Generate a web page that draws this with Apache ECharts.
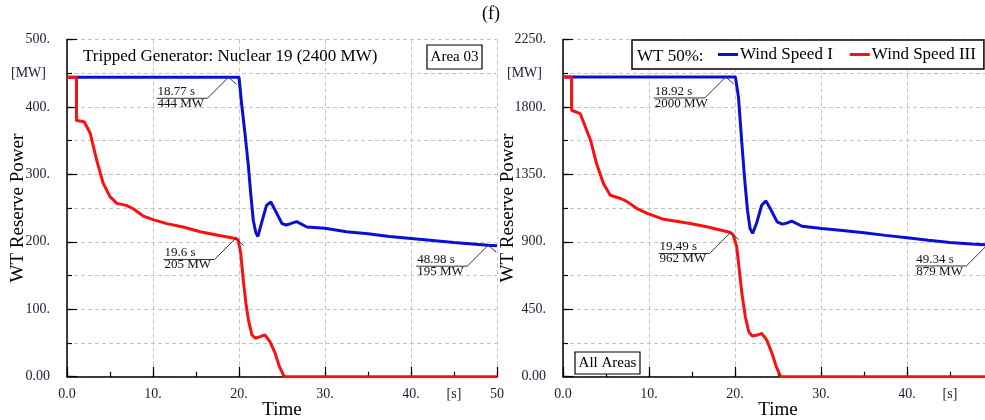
<!DOCTYPE html>
<html>
<head>
<meta charset="utf-8">
<script src="https://cdn.jsdelivr.net/npm/echarts@6/dist/echarts.min.js"></script>
<style>
  html, body { margin: 0; padding: 0; background: #fff; }
  #chart { width: 985px; height: 420px; }
</style>
</head>
<body>
<div id="chart"></div>
<script>
// ---- Time series: [time (s), reserve power (MW)] ----
// Area 03, Wind Speed I
const area03WindI = [
  [0, 444], [20.0, 444], [20.3, 405], [20.7, 360], [21.1, 311], [21.36, 272], [21.66, 232],
  [21.95, 214], [22.2, 208], [22.6, 227], [23.2, 254], [23.7, 259], [24.2, 247], [25.0, 227],
  [25.5, 225], [26.0, 227], [26.7, 230], [27.9, 222], [30.0, 220], [32.5, 215], [35, 212],
  [37.5, 208], [40, 205], [42.5, 202], [45, 199], [47.5, 196.5], [48.98, 195], [50, 194]
];
// Area 03, Wind Speed III
const area03WindIII = [
  [0, 444], [1.1, 444], [1.1, 380], [2.0, 378], [2.7, 361], [3.45, 321], [4.2, 287], [5.0, 267],
  [5.8, 257], [6.9, 254], [7.7, 249], [8.9, 238], [10, 233], [11.6, 227], [13.5, 222], [15.5, 215],
  [17.4, 210], [19.6, 205], [19.9, 203], [20.2, 183], [20.5, 143], [20.8, 109], [21.1, 84],
  [21.5, 62], [21.9, 57], [22.4, 59], [23.0, 62], [23.6, 52], [24.2, 35], [24.7, 15], [25.25, 0],
  [50, 0]
];
// All areas, Wind Speed I
const allWindI = [
  [0, 2000], [20.05, 2000], [20.4, 1867], [20.8, 1556], [21.1, 1333], [21.45, 1111], [21.75, 989],
  [22.05, 956], [22.5, 1022], [23.1, 1144], [23.6, 1173], [24.1, 1122], [24.9, 1033], [25.5, 1018],
  [26.0, 1025], [26.6, 1038], [27.8, 1004], [30.1, 989], [32.5, 975], [35, 960], [37.5, 943],
  [40, 927], [42.5, 911], [45, 896], [47.5, 886], [49.34, 879], [50, 877]
];
// All areas, Wind Speed III
const allWindIII = [
  [0, 2000], [1.0, 2000], [1.0, 1778], [2.0, 1756], [3.2, 1578], [3.9, 1422], [4.7, 1289],
  [5.5, 1211], [6.7, 1189], [7.4, 1170], [8.6, 1122], [9.8, 1090], [11.7, 1050], [14.8, 1022],
  [16.7, 1000], [19.49, 962], [19.8, 944], [20.2, 867], [20.5, 711], [20.8, 556], [21.2, 400],
  [21.6, 300], [22.0, 271], [22.6, 278], [23.1, 289], [23.7, 244], [24.3, 156], [24.8, 67],
  [25.3, 0], [50, 0]
];

// ---- Value call-outs: [time (s), power (MW)] ----
const area03Callouts = [[18.77, 444], [19.6, 205], [48.98, 195]];
const allCallouts = [[18.92, 2000], [19.49, 962], [49.34, 879]];

// ---- Tick labels ----
const timeTicks = [0, 10, 20, 30, 40, 45, 50];
const timeTickText = ['0.0', '10.', '20.', '30.', '40.', '[s]', '50'];
const area03Ticks = [0, 100, 200, 300, 400, 450, 500];
const area03TickText = ['0.00', '100.', '200.', '300.', '400.', '[MW]', '500.'];
const allTicks = [0, 450, 900, 1350, 1800, 2025, 2250];
const allTickText = ['0.00', '450.', '900.', '1350.', '1800.', '[MW]', '2250.'];

const SERIF = '"Liberation Serif", "Times New Roman", serif';
const BLUE = '#0810d4';
const RED = '#fa1010';
const LABEL_COLOR = '#1c1c38';
const GRID_LINE = { color: '#c4c4c4', type: [4, 3], width: 1 };

function lookup(ticks, texts) {
  return function (v) {
    const i = ticks.findIndex(t => Math.abs(t - v) < 1e-6);
    if (i < 0) return '';
    const s = texts[i];
    // unit labels sit a little left of the numbers
    return s.charAt(0) === '[' ? '{u|' + s + '}' : s;
  };
}

function timeAxes(gridIndex) {
  return [
    {
      // every 5 s: short ticks and labels
      type: 'value', gridIndex, min: 0, max: 50, interval: 5,
      name: 'Time', nameLocation: 'middle', nameGap: 24, nameMoveOverlap: false,
      nameTextStyle: { fontFamily: SERIF, fontSize: 19, color: '#000' },
      axisLine: { lineStyle: { color: '#000', width: 1.5 } },
      axisTick: { inside: true, length: 5, lineStyle: { color: '#000', width: 1.2 } },
      axisLabel: { formatter: lookup(timeTicks, timeTickText), fontFamily: SERIF, fontSize: 14,
                   color: LABEL_COLOR, margin: 11, rich: { u: { fontFamily: SERIF, fontSize: 14, color: LABEL_COLOR } } },
      splitLine: { show: false }
    },
    {
      // every 10 s: long ticks and vertical grid lines
      type: 'value', gridIndex, min: 0, max: 50, interval: 10, position: 'bottom',
      axisLine: { show: false },
      axisTick: { show: true, inside: true, length: 10, lineStyle: { color: '#000', width: 1.2 } },
      axisLabel: { show: false },
      splitLine: { show: true, lineStyle: GRID_LINE }
    }
  ];
}

function powerAxes(gridIndex, max, interval, ticks, texts, nameGap) {
  return [
    {
      type: 'value', gridIndex, min: 0, max, interval,
      name: 'WT Reserve Power', nameLocation: 'middle', nameGap, nameMoveOverlap: false,
      nameTextStyle: { fontFamily: SERIF, fontSize: 19, color: '#000' },
      axisLine: { show: true, lineStyle: { color: '#000', width: 1.5 } },
      axisTick: { show: true, inside: true, length: 5, lineStyle: { color: '#000', width: 1.2 } },
      axisLabel: { formatter: lookup(ticks, texts), fontFamily: SERIF, fontSize: 14,
                   color: LABEL_COLOR, margin: 17,
                   rich: { u: { fontFamily: SERIF, fontSize: 14, color: LABEL_COLOR, padding: [0, 4, 0, 0] } } },
      splitLine: { show: true, lineStyle: GRID_LINE }
    },
    {
      // long ticks on labelled values
      type: 'value', gridIndex, min: 0, max, interval: interval * 2, position: 'left', offset: 0,
      axisLine: { show: false },
      axisTick: { show: true, inside: true, length: 10, lineStyle: { color: '#000', width: 1.2 } },
      axisLabel: { show: false },
      splitLine: { show: false }
    }
  ];
}

function lineSeries(name, data, color, xAxisIndex, yAxisIndex) {
  return {
    type: 'line', name, data, xAxisIndex, yAxisIndex,
    showSymbol: false, symbol: 'none', smooth: false, z: 3,
    lineStyle: { color, width: 3 }, itemStyle: { color },
    emphasis: { disabled: true }
  };
}

// Underlined value call-out with a leader pointing at the sample
function calloutSeries(data, xAxisIndex, yAxisIndex) {
  return {
    type: 'custom', data, xAxisIndex, yAxisIndex, clip: false, z: 6, silent: true,
    renderItem: function (params, api) {
      const t = api.value(0), v = api.value(1);
      const p = api.coord([t, v]);
      const x = p[0], y = p[1];
      const font = '13px ' + SERIF;
      return {
        type: 'group',
        children: [
          {
            type: 'polyline',
            shape: { points: [[x - 72, y + 21], [x - 21, y + 21], [x, y], [x + 8, y + 7]] },
            style: { stroke: '#333', lineWidth: 1, fill: null }
          },
          {
            type: 'text',
            style: { text: t + ' s', x: x - 71, y: y + 21, align: 'left', verticalAlign: 'bottom',
                     font, fill: '#111' }
          },
          {
            type: 'text',
            style: { text: v + ' MW', x: x - 71, y: y + 20, align: 'left', verticalAlign: 'top',
                     font, fill: '#111' }
          }
        ]
      };
    }
  };
}

const chart = echarts.init(document.getElementById('chart'), null, { renderer: 'canvas' });

const option = {
  backgroundColor: '#fff',
  animation: false,
  grid: [
    { left: 67, width: 430, top: 39.5, height: 337.2, containLabel: false, outerBoundsMode: 'none' },
    { left: 563, width: 430, top: 39.5, height: 337.2, containLabel: false, outerBoundsMode: 'none' }
  ],
  xAxis: [...timeAxes(0), ...timeAxes(1)],
  yAxis: [
    ...powerAxes(0, 500, 50, area03Ticks, area03TickText, 39),
    ...powerAxes(1, 2250, 225, allTicks, allTickText, 45)
  ],
  legend: {
    data: ['Wind Speed I', 'Wind Speed III'],
    left: 632, top: 40,
    padding: [6, 8, 6, 86],
    itemGap: 17, itemWidth: 20, itemHeight: 3, icon: 'rect',
    borderColor: '#000', borderWidth: 1.5, backgroundColor: '#fff',
    selectedMode: false,
    textStyle: { fontFamily: SERIF, fontSize: 17, color: '#000', padding: [0, 0, 0, -3] }
  },
  graphic: [
    { type: 'text', x: 491, y: 14, z: 10,
      style: { text: '(f)', font: '18px ' + SERIF, fill: '#000', align: 'center', verticalAlign: 'middle' } },
    { type: 'text', x: 83, y: 57, z: 10,
      style: { text: 'Tripped Generator: Nuclear 19 (2400 MW)', font: '17px ' + SERIF, fill: '#000',
               align: 'left', verticalAlign: 'middle' } },
    { type: 'rect', z: 10, shape: { x: 427, y: 45, width: 55, height: 24 },
      style: { fill: '#fff', stroke: '#000', lineWidth: 1.2 } },
    { type: 'text', x: 454.5, y: 57, z: 11,
      style: { text: 'Area 03', font: '15px ' + SERIF, fill: '#000', align: 'center', verticalAlign: 'middle' } },
    { type: 'text', x: 637, y: 57, z: 11,
      style: { text: 'WT 50%:', font: '17px ' + SERIF, fill: '#000', align: 'left', verticalAlign: 'middle' } },
    { type: 'rect', z: 10, shape: { x: 575, y: 352, width: 65, height: 22 },
      style: { fill: '#fff', stroke: '#000', lineWidth: 1.2 } },
    { type: 'text', x: 607.5, y: 363, z: 11,
      style: { text: 'All Areas', font: '15px ' + SERIF, fill: '#000', align: 'center', verticalAlign: 'middle' } }
  ],
  series: [
    lineSeries('Wind Speed I', area03WindI, BLUE, 0, 0),
    lineSeries('Wind Speed III', area03WindIII, RED, 0, 0),
    lineSeries('Wind Speed I', allWindI, BLUE, 2, 2),
    lineSeries('Wind Speed III', allWindIII, RED, 2, 2),
    calloutSeries(area03Callouts, 0, 0),
    calloutSeries(allCallouts, 2, 2)
  ]
};

chart.setOption(option);
</script>
</body>
</html>
